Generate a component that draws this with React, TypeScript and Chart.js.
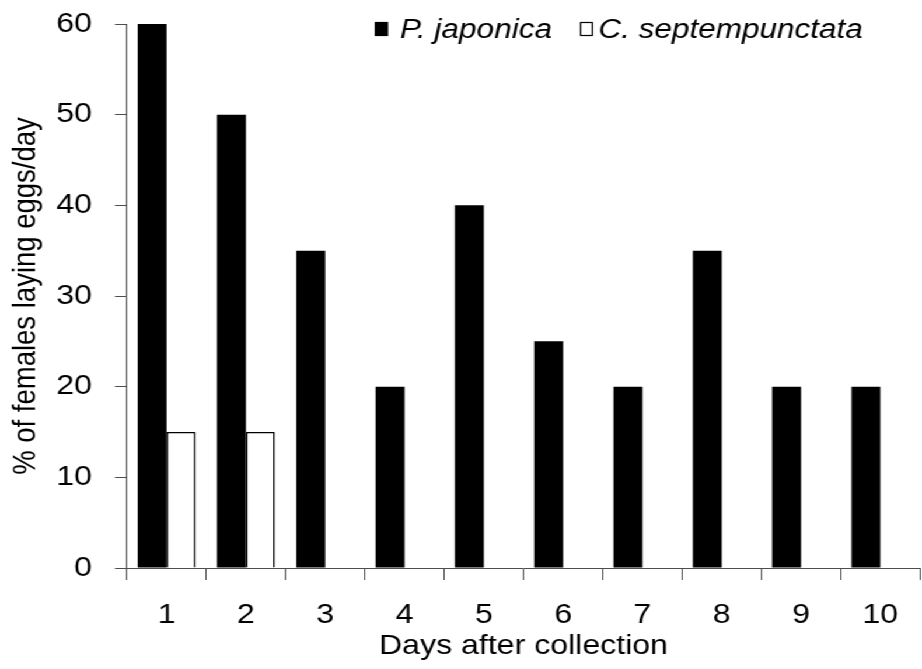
import React, { useEffect, useRef } from "react";
import { Chart, registerables } from "chart.js";

Chart.register(...registerables);

const categories = ["1", "2", "3", "4", "5", "6", "7", "8", "9", "10"];
const japonica = [60, 50, 35, 20, 40, 25, 20, 35, 20, 20];
const septempunctata = [15, 15, 0, 0, 0, 0, 0, 0, 0, 0];
const yTicks = [0, 10, 20, 30, 40, 50, 60];
const seriesLabels = ["P. japonica", "C. septempunctata"];
const xTitle = "Days after collection";
const yTitle = "% of females laying eggs/day";

const OUT_W = 922;
const OUT_H = 669;
const INNER_W = 790;
const SX = OUT_W / INNER_W;
const FONT = '"Liberation Sans", Arial, sans-serif';
const AXIS = "#4d4d4d";

const legendPlugin = {
  id: "customLegend",
  afterDraw(chart: any) {
    const ctx = chart.ctx;
    const items = [
      { bx: 321.3, tx: 342.8 },
      { bx: 497, tx: 512.7 },
    ];
    ctx.save();
    chart.data.datasets.forEach((ds: any, i: number) => {
      const it = items[i];
      ctx.fillStyle = ds.backgroundColor;
      ctx.fillRect(it.bx, 22, 11, 14);
      ctx.strokeStyle = "#000";
      ctx.lineWidth = 1.2;
      ctx.strokeRect(it.bx + 0.5, 22.5, 10, 13);
      ctx.fillStyle = "#000";
      ctx.font = `italic 27px ${FONT}`;
      ctx.textBaseline = "alphabetic";
      ctx.textAlign = "left";
      ctx.fillText(ds.label, it.tx, 38);
    });
    ctx.restore();
  },
};

export default function App() {
  const ref = useRef<HTMLCanvasElement | null>(null);

  useEffect(() => {
    if (!ref.current) return;
    const chart = new Chart(ref.current, {
      type: "bar",
      data: {
        labels: categories,
        datasets: [
          {
            label: seriesLabels[0],
            data: japonica,
            backgroundColor: "#000000",
            borderColor: "#000000",
            borderWidth: 0,
            categoryPercentage: 0.73,
            barPercentage: 1,
          },
          {
            label: seriesLabels[1],
            data: septempunctata,
            backgroundColor: "#ffffff",
            borderColor: "#000000",
            borderWidth: 1.5,
            categoryPercentage: 0.73,
            barPercentage: 1,
          },
        ],
      },
      options: {
        animation: false,
        responsive: true,
        maintainAspectRatio: false,
        layout: { padding: { top: 24, right: 1.7, bottom: 0, left: 0 } },
        plugins: {
          legend: { display: false },
          tooltip: { enabled: false },
        },
        scales: {
          x: {
            type: "category",
            offset: true,
            grid: {
              display: true,
              offset: true,
              drawOnChartArea: false,
              drawTicks: true,
              tickLength: 12,
              color: AXIS,
              lineWidth: 1,
            },
            border: { display: true, color: AXIS, width: 1 },
            ticks: {
              color: "#000",
              font: { family: FONT, size: 27.5 },
              padding: 19,
              maxRotation: 0,
              autoSkip: false,
            },
            title: {
              display: true,
              text: xTitle,
              color: "#000",
              font: { family: FONT, size: 27.5 },
              padding: { top: 0, bottom: 6 },
            },
            afterFit: (s: any) => {
              s.height = 101;
              s.paddingLeft = 0;
              s.paddingRight = 0;
            },
          },
          y: {
            min: 0,
            max: 60,
            afterBuildTicks: (s: any) => {
              s.ticks = yTicks.map((v) => ({ value: v }));
            },
            grid: {
              display: true,
              drawOnChartArea: false,
              drawTicks: true,
              tickLength: 10.3,
              color: AXIS,
              lineWidth: 1,
            },
            border: { display: true, color: AXIS, width: 1 },
            ticks: {
              color: "#000",
              font: { family: FONT, size: 27.5 },
              padding: 19.7,
            },
            title: {
              display: true,
              text: yTitle,
              color: "#000",
              font: { family: FONT, size: 27.5 },
              padding: { top: 6, bottom: 0 },
            },
            afterFit: (s: any) => {
              s.width = 108.8;
              s.paddingTop = 0;
              s.paddingBottom = 0;
            },
          },
        },
      },
      plugins: [legendPlugin],
    });
    return () => chart.destroy();
  }, []);

  return (
    <div
      style={{
        position: "absolute",
        left: 0,
        top: 0,
        width: INNER_W,
        height: OUT_H,
        transform: `scaleX(${SX})`,
        transformOrigin: "0 0",
        background: "#fff",
      }}
    >
      <canvas ref={ref} />
    </div>
  );
}
